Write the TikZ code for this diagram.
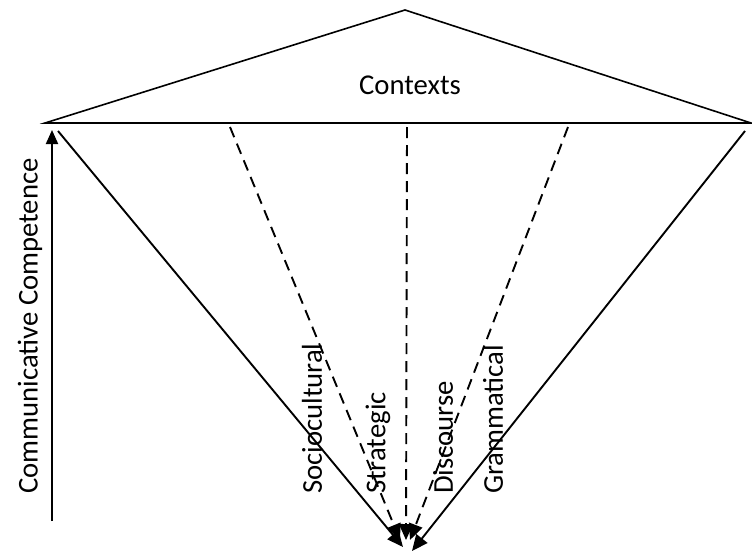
\documentclass[tikz,border=0pt]{standalone}
\usepackage{fontspec}
\setmainfont{Carlito}
\usetikzlibrary{arrows.meta}
\begin{document}
\begin{tikzpicture}[x=1pt,y=-1pt,
  ln/.style={line width=1.9pt, black},
  dsh/.style={ln, dash pattern=on 11pt off 7pt},
  tip/.style={-{Triangle[length=16pt,width=14pt]}},
  vtip/.style={-{Triangle[length=14pt,width=12pt]}},
  lbl/.style={font=\fontsize{28.7}{30}\selectfont, inner sep=0pt},
  vlbl/.style={lbl, rotate=90, anchor=west}]
\useasboundingbox (0,0) rectangle (752,554);
\coordinate (A) at (405,10);
\coordinate (L) at (45,123);
\coordinate (R) at (751,123);
\coordinate (s1) at (58,131);
\coordinate (s2) at (745,131);
\coordinate (d1) at (230,127);
\coordinate (d2) at (407,127);
\coordinate (d3) at (568,127);
\coordinate (t1) at (403,547);
\coordinate (t2) at (412,551);
\coordinate (e1) at (400,540);
\coordinate (e2) at (406,540);
\coordinate (e3) at (410,540);
\coordinate (vb) at (52,521);
\coordinate (vt) at (52,130);
\draw[line width=1.6pt, line join=miter] (L) -- (A) -- (R) -- cycle;
\draw[dsh, tip] (d1) -- (e1);
\draw[dsh, tip] (d2) -- (e2);
\draw[dsh, tip] (d3) -- (e3);
\draw[ln, tip] (s1) -- (t1);
\draw[ln, tip] (s2) -- (t2);
\draw[ln, vtip] (vb) -- (vt);
\node[lbl] (ctx) at (410,85) {Contexts};
\node[vlbl] (cc) at (30,494) {Communicative Competence};
\node[vlbl] (soc) at (312,494) {Sociocultural};
\node[vlbl] (str) at (378,494) {Strategic};
\node[vlbl] (dis) at (443,494) {Discourse};
\node[vlbl] (gra) at (493,494) {Grammatical};
\end{tikzpicture}
\end{document}
